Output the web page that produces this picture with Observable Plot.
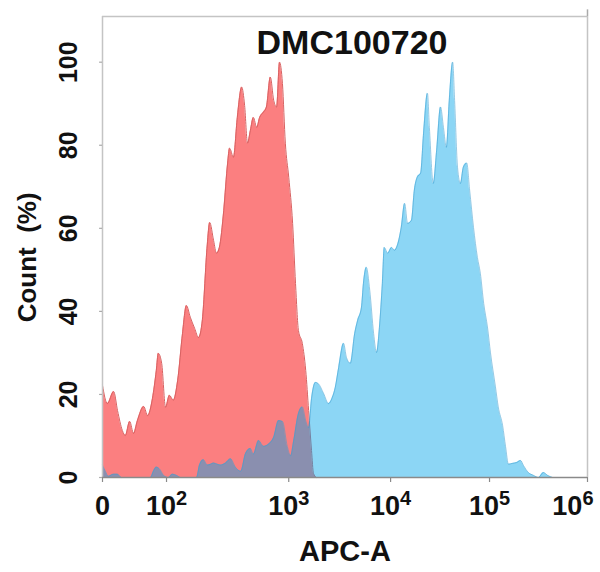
<!DOCTYPE html>
<html><head><meta charset="utf-8">
<script src="https://cdn.jsdelivr.net/npm/d3@7"></script>
<script src="https://cdn.jsdelivr.net/npm/@observablehq/plot@0.6"></script>
<style>body{margin:0;background:#fff} #chart{width:600px;height:572px}</style>
</head><body><div id="chart"></div>
<script>
const title = "DMC100720";
const xLabel = "APC-A";
const yLabel = "Count\u00a0 (%)";
// x axis in display channels (0–1000), ticks at decade positions
const xTickChannels = [0, 132, 384, 594, 798, 1000];
const xTickLabels = ["0", "10^2", "10^3", "10^4", "10^5", "10^6"];
const yTicks = [0, 20, 40, 60, 80, 100];

const redChannels = [0, 10, 23, 31, 41, 47, 56, 64, 72, 85, 93, 103, 111, 115, 122, 130, 138, 146, 155, 165, 173, 181, 190, 198, 206, 216, 221, 229, 235, 241, 250, 258, 262, 270, 278, 287, 293, 299, 305, 311, 318, 324, 332, 338, 346, 353, 359, 365, 371, 377, 384, 392, 398, 404, 412, 419, 425, 431, 435, 441];
const redCounts = [22.2, 17.8, 20.7, 16.1, 11.3, 10.1, 13.5, 10.6, 13.7, 17.1, 14.9, 19.0, 25.8, 29.9, 27.5, 16.9, 19.8, 18.6, 23.4, 34.7, 41.4, 38.6, 35.9, 33.7, 38, 56, 61.4, 57.1, 54.0, 55.4, 64.3, 75.7, 79.3, 77.1, 86.7, 94.0, 89.6, 80.5, 83.6, 86.7, 84.3, 86.7, 88.0, 89.2, 96.4, 90.8, 89.2, 100, 94.9, 80.5, 72.3, 61.2, 46.7, 35.4, 32.3, 25.8, 16.1, 6.5, 1.0, 0];

const blueChannels = [0, 6, 12, 23, 31, 39, 99, 105, 111, 118, 126, 136, 144, 153, 161, 194, 200, 208, 216, 223, 229, 237, 243, 254, 264, 274, 285, 295, 305, 311, 322, 332, 342, 353, 363, 371, 381, 388, 394, 404, 412, 419, 425, 431, 439, 445, 456, 466, 474, 480, 487, 497, 503, 511, 520, 526, 534, 538, 544, 551, 559, 565, 571, 577, 581, 588, 596, 602, 608, 616, 623, 629, 637, 643, 649, 656, 662, 670, 674, 682, 689, 697, 703, 709, 715, 722, 726, 732, 738, 744, 751, 757, 765, 773, 779, 786, 794, 800, 810, 816, 825, 831, 837, 845, 854, 862, 868, 878, 889, 899, 909, 918, 928];
const blueCounts = [3, 1.5, 0.3, 0.8, 0.8, 0, 0, 1.5, 2.5, 2, 0.5, 0, 0.8, 0.5, 0, 0, 3, 4.3, 3, 3.2, 3.5, 3.2, 3, 3.5, 4.5, 2.5, 1.5, 5.8, 7, 5.6, 8.9, 7.5, 8, 9.7, 13.7, 13.5, 7.5, 5.2, 8.7, 15.4, 17, 13.7, 12, 19, 22.9, 22.6, 20.2, 17.8, 19.3, 21.7, 26.5, 32.3, 28.9, 27.5, 34.7, 37.8, 41.0, 46.7, 50.6, 45.1, 34.7, 30.1, 36.1, 46.7, 55.4, 54.0, 55.4, 54.7, 55.9, 60.2, 66.0, 61.2, 61.9, 69.2, 72.3, 73.3, 82.9, 92.5, 84.3, 70.8, 78.8, 89.2, 84.3, 79.5, 90.8, 100, 90.8, 74.7, 70.8, 74.7, 75.7, 69.2, 60.2, 53.0, 49.2, 41.9, 36, 30, 22, 17, 12.5, 7.5, 3.2, 3.4, 3.6, 4.1, 2.9, 1.2, 0.5, 0, 1.2, 0.5, 0];

const red = redChannels.map((c, i) => ({ch: c, v: redCounts[i]}));
const blue = blueChannels.map((c, i) => ({ch: c, v: blueCounts[i]}));
const font = "'Liberation Sans', Arial, sans-serif";

const plot = Plot.plot({
  width: 600, height: 572,
  marginLeft: 102, marginRight: 13, marginTop: 16, marginBottom: 95,
  style: {fontFamily: font, background: "#fff", color: "#111"},
  x: {domain: [0, 1000], axis: null},
  y: {domain: [0, 111], axis: null},
  marks: [
    Plot.areaY(red, {x: "ch", y: "v", fill: "#fb7f80", curve: "monotone-x"}),
    Plot.lineY(red, {x: "ch", y: "v", stroke: "#d86262", strokeWidth: 1, curve: "monotone-x"}),
    Plot.areaY(blue, {x: "ch", y: "v", fill: "#00a4e8", fillOpacity: 0.45, curve: "monotone-x"}),
    Plot.lineY(blue, {x: "ch", y: "v", stroke: "#3f9fcf", strokeOpacity: 0.55, strokeWidth: 1, curve: "monotone-x"}),
    // frame
    Plot.ruleX([0, 1000], {y1: 0, y2: 111, stroke: "#c4c4c4", strokeWidth: 1.5}),
    Plot.ruleY([111], {x1: 0, x2: 1000, stroke: "#c4c4c4", strokeWidth: 1.5}),
    Plot.ruleX([1000], {y1: 111, y2: 112.6, stroke: "#aaa", strokeWidth: 1.5}),
    Plot.ruleY([0], {x1: 0, x2: 1000, stroke: "#8a8a8a", strokeWidth: 1.5}),
    // ticks
    Plot.ruleX(xTickChannels, {x: d => d, y1: 0, y2: -1.2, stroke: "#8a8a8a", strokeWidth: 1.2}),
    Plot.ruleY(yTicks, {y: d => d, x1: 0, x2: -6, stroke: "#aaa", strokeWidth: 1.2}),
    // tick labels
    Plot.text(yTicks, {y: d => d, text: d => String(d), frameAnchor: "left", dx: -34, rotate: -90,
      textAnchor: "middle", lineAnchor: "middle", fontSize: 25, fontWeight: "bold", fill: "#111"}),
    Plot.text(xTickChannels, {x: d => d, text: (d, i) => xTickLabels[i], frameAnchor: "bottom", dy: 37,
      textAnchor: "middle", fontSize: 27, fontWeight: "bold", fill: "#111"}),
    // titles
    Plot.text([yLabel], {y: () => 53, frameAnchor: "left", dx: -75, rotate: -90, textAnchor: "middle",
      lineAnchor: "middle", fontSize: 26, fontWeight: "bold", fill: "#111"}),
    Plot.text([xLabel], {frameAnchor: "bottom", dy: 83, fontSize: 29, fontWeight: "bold", fill: "#111"}),
    Plot.text([title], {frameAnchor: "top", dy: 13, dx: 7, fontSize: 34, fontWeight: "bold", fill: "#111"})
  ]
});

// superscript exponents in x tick labels
const texts = d3.select(plot).selectAll("text").filter(function() { return this.textContent.includes("^"); });
const n = texts.size();
texts.each(function(_, i) {
  const t = d3.select(this);
  const [base, exp] = t.text().split("^");
  t.text(base);
  t.append("tspan").attr("dy", "-10").attr("font-size", 20).text(exp);
  if (i === n - 1) {
    const x0 = this.getAttribute("x");
    if (x0 !== null) t.attr("text-anchor", "end").attr("x", +x0 + 6);
    else t.attr("text-anchor", "end").attr("dx", 6);
  }
});
document.getElementById("chart").appendChild(plot);
</script>
</body></html>
